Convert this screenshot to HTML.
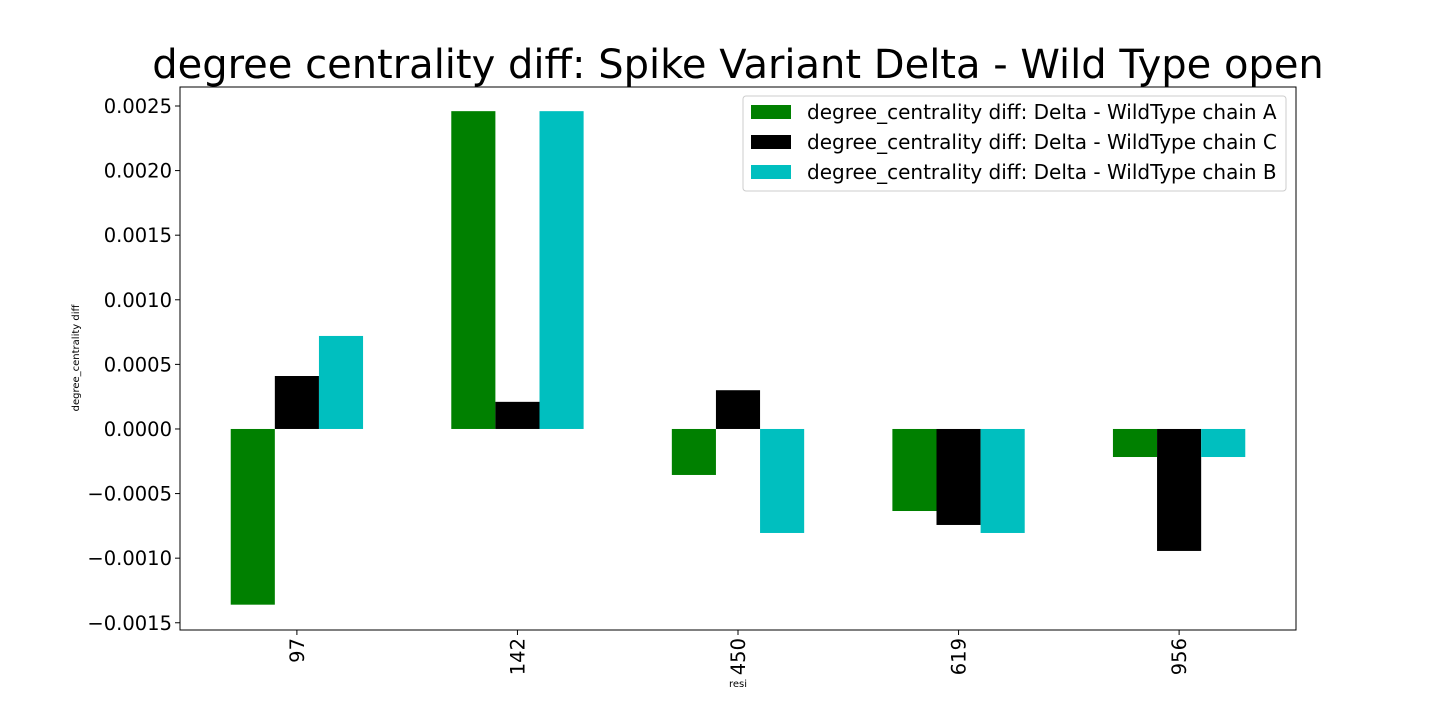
<!DOCTYPE html>
<html><head><meta charset="utf-8"><style>
body{margin:0;background:#fff;font-family:"Liberation Sans","DejaVu Sans",sans-serif;}
</style></head><body>
<svg id="chart" width="1440" height="720" xmlns="http://www.w3.org/2000/svg" font-family="'DejaVu Sans','Liberation Sans',sans-serif">
<text x="738" y="78" font-size="40" text-anchor="middle">degree centrality diff: Spike Variant Delta - Wild Type open</text>
<g id="plot"></g>
<text x="738" y="687" font-size="10" text-anchor="middle">resi</text>
<text transform="translate(79,358) rotate(-90)" font-size="10" text-anchor="middle">degree_centrality diff</text>
</svg>
<script>
const categories = ["97","142","450","619","956"];
const seriesA = [-0.00136, 0.00246, -0.000356, -0.000635, -0.000217];
const seriesC = [0.00041, 0.00021, 0.0003, -0.000743, -0.000944];
const seriesB = [0.00072, 0.00246, -0.000805, -0.000805, -0.000217];
const seriesNames = ["degree_centrality diff: Delta - WildType chain A","degree_centrality diff: Delta - WildType chain C","degree_centrality diff: Delta - WildType chain B"];
const yTicks = [-0.0015,-0.0010,-0.0005,0.0,0.0005,0.0010,0.0015,0.0020,0.0025];
const yTickLabels = ["\u22120.0015","\u22120.0010","\u22120.0005","0.0000","0.0005","0.0010","0.0015","0.0020","0.0025"];

const L=180,R=1296,T=87,B=630, yMin=-0.001556, yMax=0.002647;
const ns="http://www.w3.org/2000/svg";
const g=document.getElementById('plot');
const step=(R-L)/(categories.length-1+1.06);
function x(i){return L+0.53*step+i*step;}
function y(v){return B-(v-yMin)/(yMax-yMin)*(B-T);}
function mk(t,a){const e=document.createElementNS(ns,t);for(const k in a)e.setAttribute(k,a[k]);g.appendChild(e);return e;}
const series=[seriesA,seriesC,seriesB], colors=["#008000","#000000","#00bfbf"], keys=["a","c","b"];
const bw=step*0.2;
series.forEach((s,si)=>{s.forEach((v,i)=>{
  const x0=x(i)-1.5*bw+si*bw, y0=Math.min(y(v),y(0)), h=Math.abs(y(v)-y(0));
  const r=mk('rect',{x:x0,y:y0,width:bw,height:h,fill:colors[si]});
  
  
});});
const frame=mk('rect',{x:L,y:T,width:R-L,height:B-T,fill:'none',stroke:'#000','stroke-width':1});


yTicks.forEach((v,i)=>{
  const yy=y(v);
  const tk=mk('line',{x1:L-5,x2:L,y1:yy,y2:yy,stroke:'#000'});
  
  
  const t=mk('text',{x:L-8,y:yy+7,'font-size':19.5,'text-anchor':'end'});
  t.textContent=yTickLabels[i];
  
  
});
categories.forEach((c,i)=>{
  const xx=x(i);
  const tk=mk('line',{x1:xx,x2:xx,y1:B,y2:B+5,stroke:'#000'});
  
  
  const t=mk('text',{transform:`translate(${xx+7},${B+8}) rotate(-90)`,'font-size':19.5,'text-anchor':'end'});
  t.textContent=c;
  
  
});
const lb=mk('rect',{x:743,y:96,width:543,height:95,rx:3,fill:'#fff','fill-opacity':0.8,stroke:'#ccc'});


seriesNames.forEach((n,i)=>{
  const yy=112+i*30;
  const p=mk('rect',{x:751,y:yy-7,width:40,height:14,fill:colors[i]});
  
  
  const t=mk('text',{x:807,y:yy+7,'font-size':20});
  t.textContent=n;
  
  
});
</script>
</body></html>
